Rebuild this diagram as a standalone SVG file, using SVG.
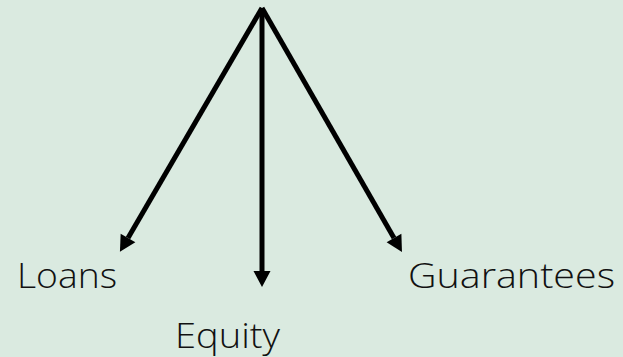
<svg xmlns="http://www.w3.org/2000/svg" width="623" height="357" viewBox="0 0 623 357">
<style>
.conn{stroke:#000;stroke-width:5;fill:none;marker-end:url(#ah)}
.lbl{font-family:"Open Sans","Liberation Sans",sans-serif;font-weight:300;font-size:34px;fill:#111}
</style>
<defs>
<marker id="ah" markerUnits="userSpaceOnUse" markerWidth="17" markerHeight="18" refX="0" refY="9" orient="auto" overflow="visible">
<path d="M0,0.5 L16,9 L0,17.5 z" fill="#000"/>
</marker>
</defs>
<rect width="623" height="357" fill="#DAEAE0"/>
<g id="connectors">
<line class="conn" x1="262" y1="8" x2="128" y2="238"/>
<line class="conn" x1="262" y1="8" x2="262" y2="271"/>
<line class="conn" x1="262" y1="8" x2="394" y2="238"/>
</g>
<g id="loans"><text class="lbl" x="17" y="288" textLength="100" lengthAdjust="spacingAndGlyphs">Loans</text></g>
<g id="equity"><text class="lbl" x="175" y="348" textLength="105" lengthAdjust="spacingAndGlyphs">Equity</text></g>
<g id="guarantees"><text class="lbl" x="408" y="288" textLength="207" lengthAdjust="spacingAndGlyphs">Guarantees</text></g>
</svg>
